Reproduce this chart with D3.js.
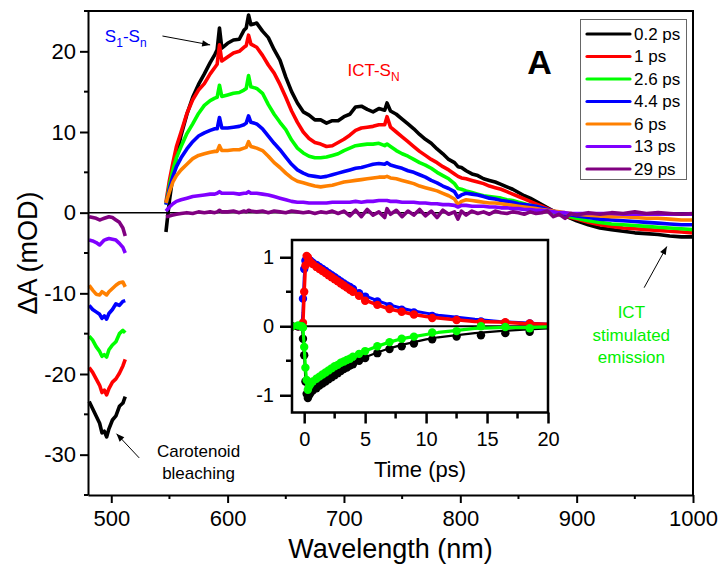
<!DOCTYPE html>
<html><head><meta charset="utf-8">
<script src="https://cdn.jsdelivr.net/npm/d3@7"></script>
<style>body{margin:0;background:#fff}</style>
</head><body><svg id="c" width="724" height="575"></svg>
<script>
// ---------------- DATA ----------------
const seriesNames = ["0.2 ps","1 ps","2.6 ps","4.4 ps","6 ps","13 ps","29 ps"];
const seriesColors = ["#000000","#ff0000","#00ff00","#0000ff","#ff8000","#8000ff","#800080"];

const wlBleach = [481,484,487,490,492,494,496,498,501,504,507,510,512];
const bleach02 = [-23.4,-24.3,-25.2,-26.1,-27.3,-27.1,-27.8,-26.8,-25.7,-25.2,-24.0,-23.6,-22.8];
const bleach1  = [-19.2,-19.8,-20.6,-21.4,-22.3,-22.0,-22.6,-21.8,-21.0,-20.6,-19.9,-19.0,-18.2];
const bleach26 = [-15.3,-15.8,-16.6,-17.2,-17.8,-17.6,-17.9,-17.0,-16.4,-16.0,-15.0,-14.6,-14.9];
const bleach44 = [-11.5,-12.0,-12.3,-12.6,-13.1,-12.8,-13.2,-12.5,-12.0,-11.3,-11.5,-11.0,-10.9];
const bleach6  = [-9.0,-9.6,-10.1,-10.2,-9.8,-10.0,-10.2,-9.8,-9.4,-9.0,-8.7,-8.6,-9.2];
const bleach13 = [-3.4,-3.5,-3.7,-4.0,-3.7,-3.4,-3.3,-3.2,-3.3,-3.4,-3.8,-4.3,-5.0];
const bleach29 = [-0.5,-0.6,-0.7,-0.9,-0.8,-0.7,-0.6,-0.5,-0.6,-0.9,-1.2,-1.9,-2.9];

const wlMain = [547,550,553,556,560,565,570,575,580,585,
  589,591,593,595,600,605,610,614,616,618,
  620,625,630,635,640,645,650,655,660,665,
  670,675,680,685,690,695,700,705,710,715,
  720,725,730,735,737,740,745,750,755,760,
  765,770,775,780,785,790,795,798,801,805,
  810,815,820,825,830,835,840,845,850,855,
  860,865,870,875,880,885,890,895,900,910,
  920,930,940,950,960,970,980,990,1000];
const main02 = [-2.4,1.5,4.6,7.0,9.6,12.2,14.3,15.9,17.2,18.6,
  19.6,20.2,22.9,20.4,21.0,21.4,21.5,22.6,22.9,24.5,
  23.3,23.5,22.5,21.7,20.2,18.9,16.8,15.0,13.6,12.5,
  12.1,11.5,11.5,11.1,11.4,11.4,11.9,12.2,13.1,13.2,
  12.8,12.5,12.9,12.7,13.6,12.6,12.2,11.6,11.0,10.4,
  9.7,9.1,8.6,7.9,7.3,6.6,6.2,5.7,5.6,5.2,
  4.8,4.6,4.2,4.0,3.8,3.5,3.2,2.9,2.5,2.1,
  1.8,1.4,1.0,0.6,0.2,-0.1,-0.4,-0.7,-1.0,-1.5,
  -1.9,-2.1,-2.3,-2.5,-2.6,-2.7,-2.9,-3.0,-3.0];
const main1 = [1.3,4.0,6.2,8.2,10.0,12.3,14.0,15.2,16.0,17.2,
  18.0,18.4,20.8,18.8,19.3,19.8,20.0,20.5,20.7,22.0,
  20.9,20.5,19.5,18.3,17.3,15.9,14.3,12.6,11.2,10.0,
  9.2,8.7,8.5,8.2,8.3,8.7,9.1,9.6,10.2,10.5,
  10.6,10.7,10.9,10.9,11.9,10.6,10.0,9.4,8.8,8.2,
  7.6,7.1,6.6,6.2,5.7,5.3,4.8,4.5,4.3,4.2,
  4.0,3.8,3.6,3.3,3.1,2.9,2.6,2.3,2.0,1.7,
  1.4,1.1,0.8,0.5,0.2,-0.1,-0.4,-0.6,-0.8,-1.2,
  -1.5,-1.7,-1.9,-2.0,-2.1,-2.2,-2.3,-2.4,-2.5];
const main26 = [1.0,3.4,5.3,6.8,8.2,9.8,11.0,12.3,13.3,13.9,
  14.2,14.3,15.8,14.4,14.6,14.8,14.9,15.2,15.4,17.0,
  15.6,15.4,14.8,13.4,12.2,11.2,10.3,9.0,8.0,7.4,
  7.0,6.8,6.8,6.9,7.1,7.3,7.7,8.0,8.3,8.4,
  8.5,8.5,8.6,8.3,8.5,8.2,7.7,7.3,7.0,6.6,
  6.2,5.9,5.5,5.0,4.6,4.2,3.6,3.0,2.9,2.7,
  2.5,2.3,2.1,2.0,1.9,1.8,1.6,1.5,1.3,1.1,
  0.9,0.8,0.6,0.3,0.0,-0.2,-0.4,-0.5,-0.7,-1.0,
  -1.2,-1.4,-1.5,-1.6,-1.7,-1.8,-1.9,-2.0,-2.1];
const main44 = [1.0,3.0,4.5,5.7,6.8,7.9,8.8,9.5,9.9,10.2,
  10.4,10.4,11.8,10.5,10.5,10.6,10.7,10.9,11.1,12.0,
  11.2,11.0,10.4,9.5,8.6,7.8,6.9,6.0,5.3,4.9,
  4.6,4.5,4.4,4.5,4.7,4.9,5.1,5.3,5.5,5.6,
  5.8,6.0,6.1,6.0,6.2,5.9,5.7,5.5,5.2,5.0,
  4.7,4.4,4.0,3.7,3.3,3.0,2.6,1.9,2.2,2.4,
  2.3,2.2,2.0,1.8,1.7,1.5,1.4,1.3,1.1,1.0,
  0.9,0.8,0.6,0.4,0.2,0.0,-0.2,-0.3,-0.4,-0.6,
  -0.8,-0.9,-1.0,-1.1,-1.2,-1.3,-1.4,-1.5,-1.5];
const main6 = [1.2,2.6,3.8,4.6,5.3,6.0,6.7,7.1,7.3,7.5,
  7.6,7.6,8.3,7.7,7.7,7.8,7.8,8.0,8.1,8.8,
  8.2,8.0,7.7,7.0,6.2,5.6,4.9,4.3,3.9,3.7,
  3.5,3.3,3.2,3.3,3.4,3.6,3.8,3.9,4.0,4.1,
  4.2,4.3,4.4,4.4,4.5,4.3,4.2,4.0,3.8,3.6,
  3.3,3.1,2.9,2.7,2.4,2.1,1.7,1.0,1.4,1.6,
  1.5,1.4,1.3,1.2,1.2,1.1,1.0,0.9,0.8,0.7,
  0.6,0.5,0.4,0.3,0.2,0.1,0.0,-0.1,-0.2,-0.3,
  -0.4,-0.5,-0.5,-0.6,-0.7,-0.7,-0.8,-0.9,-0.9];
const main13 = [0.2,0.7,1.1,1.4,1.6,1.8,2.0,2.1,2.2,2.3,
  2.3,2.4,2.6,2.4,2.4,2.4,2.3,2.4,2.4,2.6,
  2.4,2.4,2.3,2.2,2.0,1.8,1.6,1.4,1.3,1.3,
  1.2,1.2,1.2,1.2,1.3,1.3,1.3,1.3,1.4,1.3,
  1.4,1.4,1.5,1.5,1.5,1.4,1.4,1.3,1.3,1.3,
  1.2,1.2,1.1,1.1,1.0,1.0,0.9,0.7,0.9,0.9,
  0.8,0.8,0.8,0.7,0.7,0.6,0.6,0.5,0.5,0.4,
  0.4,0.3,0.3,0.2,0.1,0.0,0.0,-0.1,-0.1,-0.1,
  -0.1,-0.1,-0.2,-0.2,-0.2,-0.2,-0.2,-0.2,-0.2];
const main29 = [-0.5,-0.4,-0.3,-0.2,-0.1,0.0,-0.1,0.1,0.0,0.1,
  0.0,0.1,0.3,0.1,0.1,0.2,0.0,0.2,0.1,0.3,
  0.2,0.1,0.2,0.0,0.2,0.1,0.0,0.2,0.1,0.0,
  0.1,-0.1,0.1,0.0,0.2,-0.1,0.2,-0.4,0.3,-0.5,
  0.4,-0.3,0.1,-0.6,0.5,-0.2,0.3,-0.5,0.2,-0.3,
  0.4,-0.4,0.2,-0.6,0.3,-0.2,0.1,-0.8,0.2,-0.3,
  0.2,-0.1,0.1,-0.2,0.2,0.0,-0.1,0.1,0.0,-0.2,
  0.1,-0.1,0.0,0.2,-0.5,-0.2,-0.7,-0.1,-0.3,0.0,
  -0.2,0.0,-0.1,0.1,-0.1,0.0,-0.1,-0.2,-0.1];

const xMajorTicks = [500,600,700,800,900,1000];
const xMinorTicks = [550,650,750,850,950];
const yMajorTicks = [-30,-20,-10,0,10,20];
const yMinorTicks = [-35,-25,-15,-5,5,15,25];

// inset (kinetics)
const tPoints = [-1,-0.5,-0.2,-0.1,0,0.1,0.2,0.3,0.4,0.5,0.7,1,1.25,1.5,1.75,2,2.25,2.5,2.75,3,3.25,3.5,3.75,4,4.5,5,6,7,8,9,10.5,12.5,14.5,16.5,18.5];
const kinBlue  = [0,0,0.02,0.4,0.83,0.95,0.98,0.97,0.96,0.95,0.92,0.89,0.86,0.83,0.8,0.77,0.74,0.71,0.68,0.65,0.62,0.59,0.57,0.54,0.48,0.43,0.36,0.29,0.24,0.2,0.15,0.1,0.07,0.05,0.04];
const kinRed   = [0,0,0.02,0.05,0.5,0.88,1.02,1.0,0.95,0.93,0.9,0.86,0.83,0.8,0.77,0.74,0.71,0.68,0.65,0.62,0.59,0.56,0.53,0.5,0.44,0.37,0.31,0.25,0.21,0.17,0.12,0.09,0.06,0.06,0.04];
const kinBlack = [0,0,0,-0.18,-0.42,-0.8,-0.98,-1.04,-1.0,-0.97,-0.93,-0.9,-0.86,-0.83,-0.8,-0.77,-0.74,-0.71,-0.68,-0.65,-0.62,-0.6,-0.57,-0.55,-0.5,-0.46,-0.39,-0.33,-0.29,-0.25,-0.19,-0.15,-0.13,-0.1,-0.08];
const kinGreen = [0,0.01,0,-0.02,-0.3,-0.6,-0.78,-0.92,-0.87,-0.84,-0.8,-0.76,-0.73,-0.7,-0.67,-0.64,-0.61,-0.58,-0.56,-0.53,-0.51,-0.49,-0.47,-0.44,-0.4,-0.36,-0.29,-0.23,-0.18,-0.15,-0.09,-0.07,0.0,-0.01,-0.03];

const tFit = [-1,-0.5,-0.2,-0.1,0,0.1,0.2,0.3,0.5,0.7,1,1.5,2,2.5,3,3.5,4,5,6,7,8,9,10,11,12,14,16,18,20];
const fitBlue  = [0,0,0.01,0.2,0.7,0.95,1.0,0.99,0.96,0.93,0.9,0.84,0.78,0.72,0.66,0.6,0.54,0.44,0.37,0.31,0.26,0.22,0.19,0.16,0.14,0.1,0.07,0.05,0.03];
const fitRed   = [0,0,0.02,0.05,0.5,0.88,1.02,1.0,0.93,0.9,0.86,0.8,0.74,0.68,0.62,0.56,0.5,0.38,0.31,0.25,0.21,0.17,0.14,0.12,0.1,0.07,0.06,0.04,0.03];
const fitBlack = [0,0,0,-0.18,-0.42,-0.8,-0.98,-1.03,-0.97,-0.93,-0.89,-0.82,-0.76,-0.7,-0.64,-0.58,-0.53,-0.45,-0.38,-0.32,-0.27,-0.23,-0.19,-0.16,-0.14,-0.1,-0.07,-0.05,-0.03];
const fitGreen = [0,0.01,0,-0.02,-0.3,-0.6,-0.8,-0.92,-0.86,-0.82,-0.76,-0.7,-0.64,-0.58,-0.53,-0.48,-0.44,-0.36,-0.29,-0.23,-0.18,-0.15,-0.12,-0.09,-0.07,-0.03,-0.02,-0.02,-0.01];

const tMajorTicks = [0,5,10,15,20];
const tMinorTicks = [2.5,7.5,12.5,17.5];
const kMajorTicks = [-1,0,1];
const kMinorTicks = [-0.5,0.5];

// ---------------- DRAWING ----------------
const FONT = "'Liberation Sans', Arial, Helvetica, sans-serif";
const svg = d3.select('#c').style('font-family', FONT);
svg.append('rect').attr('width',724).attr('height',575).attr('fill','#fff');

const defs = svg.append('defs');
defs.append('marker').attr('id','arr').attr('viewBox','0 0 10 10')
  .attr('refX',10).attr('refY',5).attr('markerWidth',11).attr('markerHeight',8)
  .attr('markerUnits','userSpaceOnUse').attr('orient','auto')
  .append('path').attr('d','M0,1 L10,5 L0,9 z').attr('fill','#000');

const x = d3.scaleLinear().domain([480,1000]).range([88,693]);
const y = d3.scaleLinear().domain([-35,25]).range([495,11]);

// zero line
svg.append('line').attr('x1',x(480)).attr('x2',x(1000)).attr('y1',y(0)).attr('y2',y(0))
  .attr('stroke','#000').attr('stroke-width',1.5);

const bleachSets = [bleach02,bleach1,bleach26,bleach44,bleach6,bleach13,bleach29];
const mainSets = [main02,main1,main26,main44,main6,main13,main29];
const line = d3.line().x(d=>x(d[0])).y(d=>y(d[1]));
const gData = svg.append('g');
seriesNames.forEach((n,i)=>{
  gData.append('path').datum(d3.zip(wlBleach,bleachSets[i])).attr('d',line)
    .attr('fill','none').attr('stroke',seriesColors[i]).attr('stroke-width',3.6)
    .attr('stroke-linejoin','round');
  gData.append('path').datum(d3.zip(wlMain,mainSets[i])).attr('d',line)
    .attr('fill','none').attr('stroke',seriesColors[i]).attr('stroke-width',3.6)
    .attr('stroke-linejoin','round');
});

// axes
function styleAxis(g, fs){
  g.select('.domain').attr('stroke-width',2);
  g.selectAll('.tick line').attr('stroke-width',2);
  g.selectAll('.tick text').attr('font-size',fs).attr('font-family',FONT).attr('fill','#000');
}
const fmt = d => String(d);
const gx = svg.append('g').attr('transform','translate(0,495)')
  .call(d3.axisBottom(x).tickValues(xMajorTicks).tickFormat(fmt).tickSize(8).tickSizeOuter(0).tickPadding(7));
styleAxis(gx, 22);
gx.selectAll('.minor').data(xMinorTicks).join('line').attr('class','minor')
  .attr('x1',d=>x(d)).attr('x2',d=>x(d)).attr('y1',0).attr('y2',4).attr('stroke','#000').attr('stroke-width',2);

const gy = svg.append('g').attr('transform','translate(88,0)')
  .call(d3.axisLeft(y).tickValues(yMajorTicks).tickFormat(fmt).tickSize(8).tickSizeOuter(0).tickPadding(4));
styleAxis(gy, 22);
gy.selectAll('.minor').data(yMinorTicks).join('line').attr('class','minor')
  .attr('x1',-4).attr('x2',0).attr('y1',d=>y(d)).attr('y2',d=>y(d)).attr('stroke','#000').attr('stroke-width',2);

// frame top/right
svg.append('path').attr('d',`M${x(480)},${y(25)}H${x(1000)}V${y(-35)}`)
  .attr('fill','none').attr('stroke','#000').attr('stroke-width',2);

// axis titles
svg.append('text').attr('x',(x(480)+x(1000))/2).attr('y',558).attr('text-anchor','middle')
  .attr('font-size',27).text('Wavelength (nm)');
svg.append('text').attr('transform',`translate(37,${(y(25)+y(-35))/2}) rotate(-90)`)
  .attr('text-anchor','middle').attr('font-size',27).text('ΔA (mOD)');

// annotations
const s1 = svg.append('text').attr('x',x(494.5)).attr('y',y(21.2)).attr('fill','#0000ff').attr('font-size',17);
s1.append('tspan').text('S');
s1.append('tspan').attr('dy',5).attr('font-size',12).text('1');
s1.append('tspan').attr('dy',-5).text('-S');
s1.append('tspan').attr('dy',5).attr('font-size',12).text('n');
svg.append('line').attr('x1',x(544)).attr('y1',y(21.9)).attr('x2',x(585)).attr('y2',y(20.8))
  .attr('stroke','#000').attr('stroke-width',1).attr('marker-end','url(#arr)');

const ict = svg.append('text').attr('x',x(703)).attr('y',y(17.0)).attr('fill','#ff0000').attr('font-size',17);
ict.append('tspan').text('ICT-S');
ict.append('tspan').attr('dy',5).attr('font-size',12).text('N');

svg.append('text').attr('x',x(868)).attr('y',y(17.2)).attr('text-anchor','middle')
  .attr('font-size',34).attr('font-weight','bold').text('A');

const car = svg.append('text').attr('text-anchor','middle').attr('font-size',17).attr('fill','#000');
car.append('tspan').attr('x',x(575)).attr('y',y(-30.3)).text('Carotenoid');
car.append('tspan').attr('x',x(575)).attr('y',y(-33.0)).text('bleaching');
svg.append('line').attr('x1',x(524)).attr('y1',y(-30.4)).attr('x2',x(504.5)).attr('y2',y(-27.4))
  .attr('stroke','#000').attr('stroke-width',1).attr('marker-end','url(#arr)');

const em = svg.append('text').attr('text-anchor','middle').attr('font-size',17).attr('fill','#00f000');
em.append('tspan').attr('x',x(947)).attr('y',y(-13.1)).text('ICT');
em.append('tspan').attr('x',x(947)).attr('y',y(-15.9)).text('stimulated');
em.append('tspan').attr('x',x(947)).attr('y',y(-18.6)).text('emission');
svg.append('line').attr('x1',x(958)).attr('y1',y(-9.3)).attr('x2',x(977.5)).attr('y2',y(-4.2))
  .attr('stroke','#000').attr('stroke-width',1).attr('marker-end','url(#arr)');

// legend
const lg = svg.append('g');
lg.append('rect').attr('x',580.5).attr('y',19.5).attr('width',106).attr('height',160)
  .attr('fill','#fff').attr('stroke','#666').attr('stroke-width',1);
seriesNames.forEach((n,i)=>{
  const yy = 34 + i*22.5;
  lg.append('line').attr('x1',587).attr('x2',630).attr('y1',yy).attr('y2',yy)
    .attr('stroke',seriesColors[i]).attr('stroke-width',3.2).attr('stroke-linecap','round');
  lg.append('text').attr('x',634).attr('y',yy).attr('dy','0.35em').attr('font-size',17).text(n);
});

// ---------------- INSET ----------------
const xi = d3.scaleLinear().domain([-1,20]).range([292,548]);
const yi = d3.scaleLinear().domain([-1.25,1.25]).range([412.5,240]);
const gi = svg.append('g');
gi.append('rect').attr('x',292).attr('y',240).attr('width',256).attr('height',172.5)
  .attr('fill','#fff');
gi.append('line').attr('x1',xi(-1)).attr('x2',xi(20)).attr('y1',yi(0)).attr('y2',yi(0))
  .attr('stroke','#000').attr('stroke-width',1.8);
defs.append('clipPath').attr('id','ic').append('rect').attr('x',292).attr('y',240).attr('width',256).attr('height',172.5);
const gk = gi.append('g').attr('clip-path','url(#ic)');
const lineI = d3.line().x(d=>xi(d[0])).y(d=>yi(d[1]));
function kin(vals, fit, color, lw){
  gk.append('g').selectAll('circle').data(d3.zip(tPoints, vals)).join('circle')
    .attr('cx',d=>xi(d[0])).attr('cy',d=>yi(d[1])).attr('r',4.2).attr('fill',color);
  gk.append('path').datum(d3.zip(tFit, fit)).attr('d',lineI).attr('fill','none')
    .attr('stroke',color).attr('stroke-width',lw).attr('stroke-linejoin','round');
}
kin(kinBlue, fitBlue, '#0000ff', 3);
kin(kinRed, fitRed, '#ff0000', 3.5);
kin(kinBlack, fitBlack, '#000000', 2.2);
kin(kinGreen, fitGreen, '#00ff00', 3.2);

gi.append('rect').attr('x',292).attr('y',240).attr('width',256).attr('height',172.5)
  .attr('fill','none').attr('stroke','#000').attr('stroke-width',2.5);

const gxi = gi.append('g').attr('transform','translate(0,412.5)')
  .call(d3.axisBottom(xi).tickValues(tMajorTicks).tickFormat(fmt).tickSize(11).tickSizeOuter(0).tickPadding(8));
styleAxis(gxi, 20);
gxi.select('.domain').remove();
gxi.selectAll('.tick line').attr('stroke-width',2.5);
gxi.selectAll('.minor').data(tMinorTicks).join('line').attr('class','minor')
  .attr('x1',d=>xi(d)).attr('x2',d=>xi(d)).attr('y1',0).attr('y2',6).attr('stroke','#000').attr('stroke-width',2.5);

const gyi = gi.append('g').attr('transform','translate(292,0)')
  .call(d3.axisLeft(yi).tickValues(kMajorTicks).tickFormat(fmt).tickSize(12).tickSizeOuter(0).tickPadding(6));
styleAxis(gyi, 20);
gyi.select('.domain').remove();
gyi.selectAll('.tick line').attr('stroke-width',2.5);
gyi.selectAll('.minor').data(kMinorTicks).join('line').attr('class','minor')
  .attr('x1',-6).attr('x2',0).attr('y1',d=>yi(d)).attr('y2',d=>yi(d)).attr('stroke','#000').attr('stroke-width',2.5);

gi.append('text').attr('x',(xi(-1)+xi(20))/2).attr('y',477).attr('text-anchor','middle')
  .attr('font-size',22).text('Time (ps)');
</script>
</body></html>
